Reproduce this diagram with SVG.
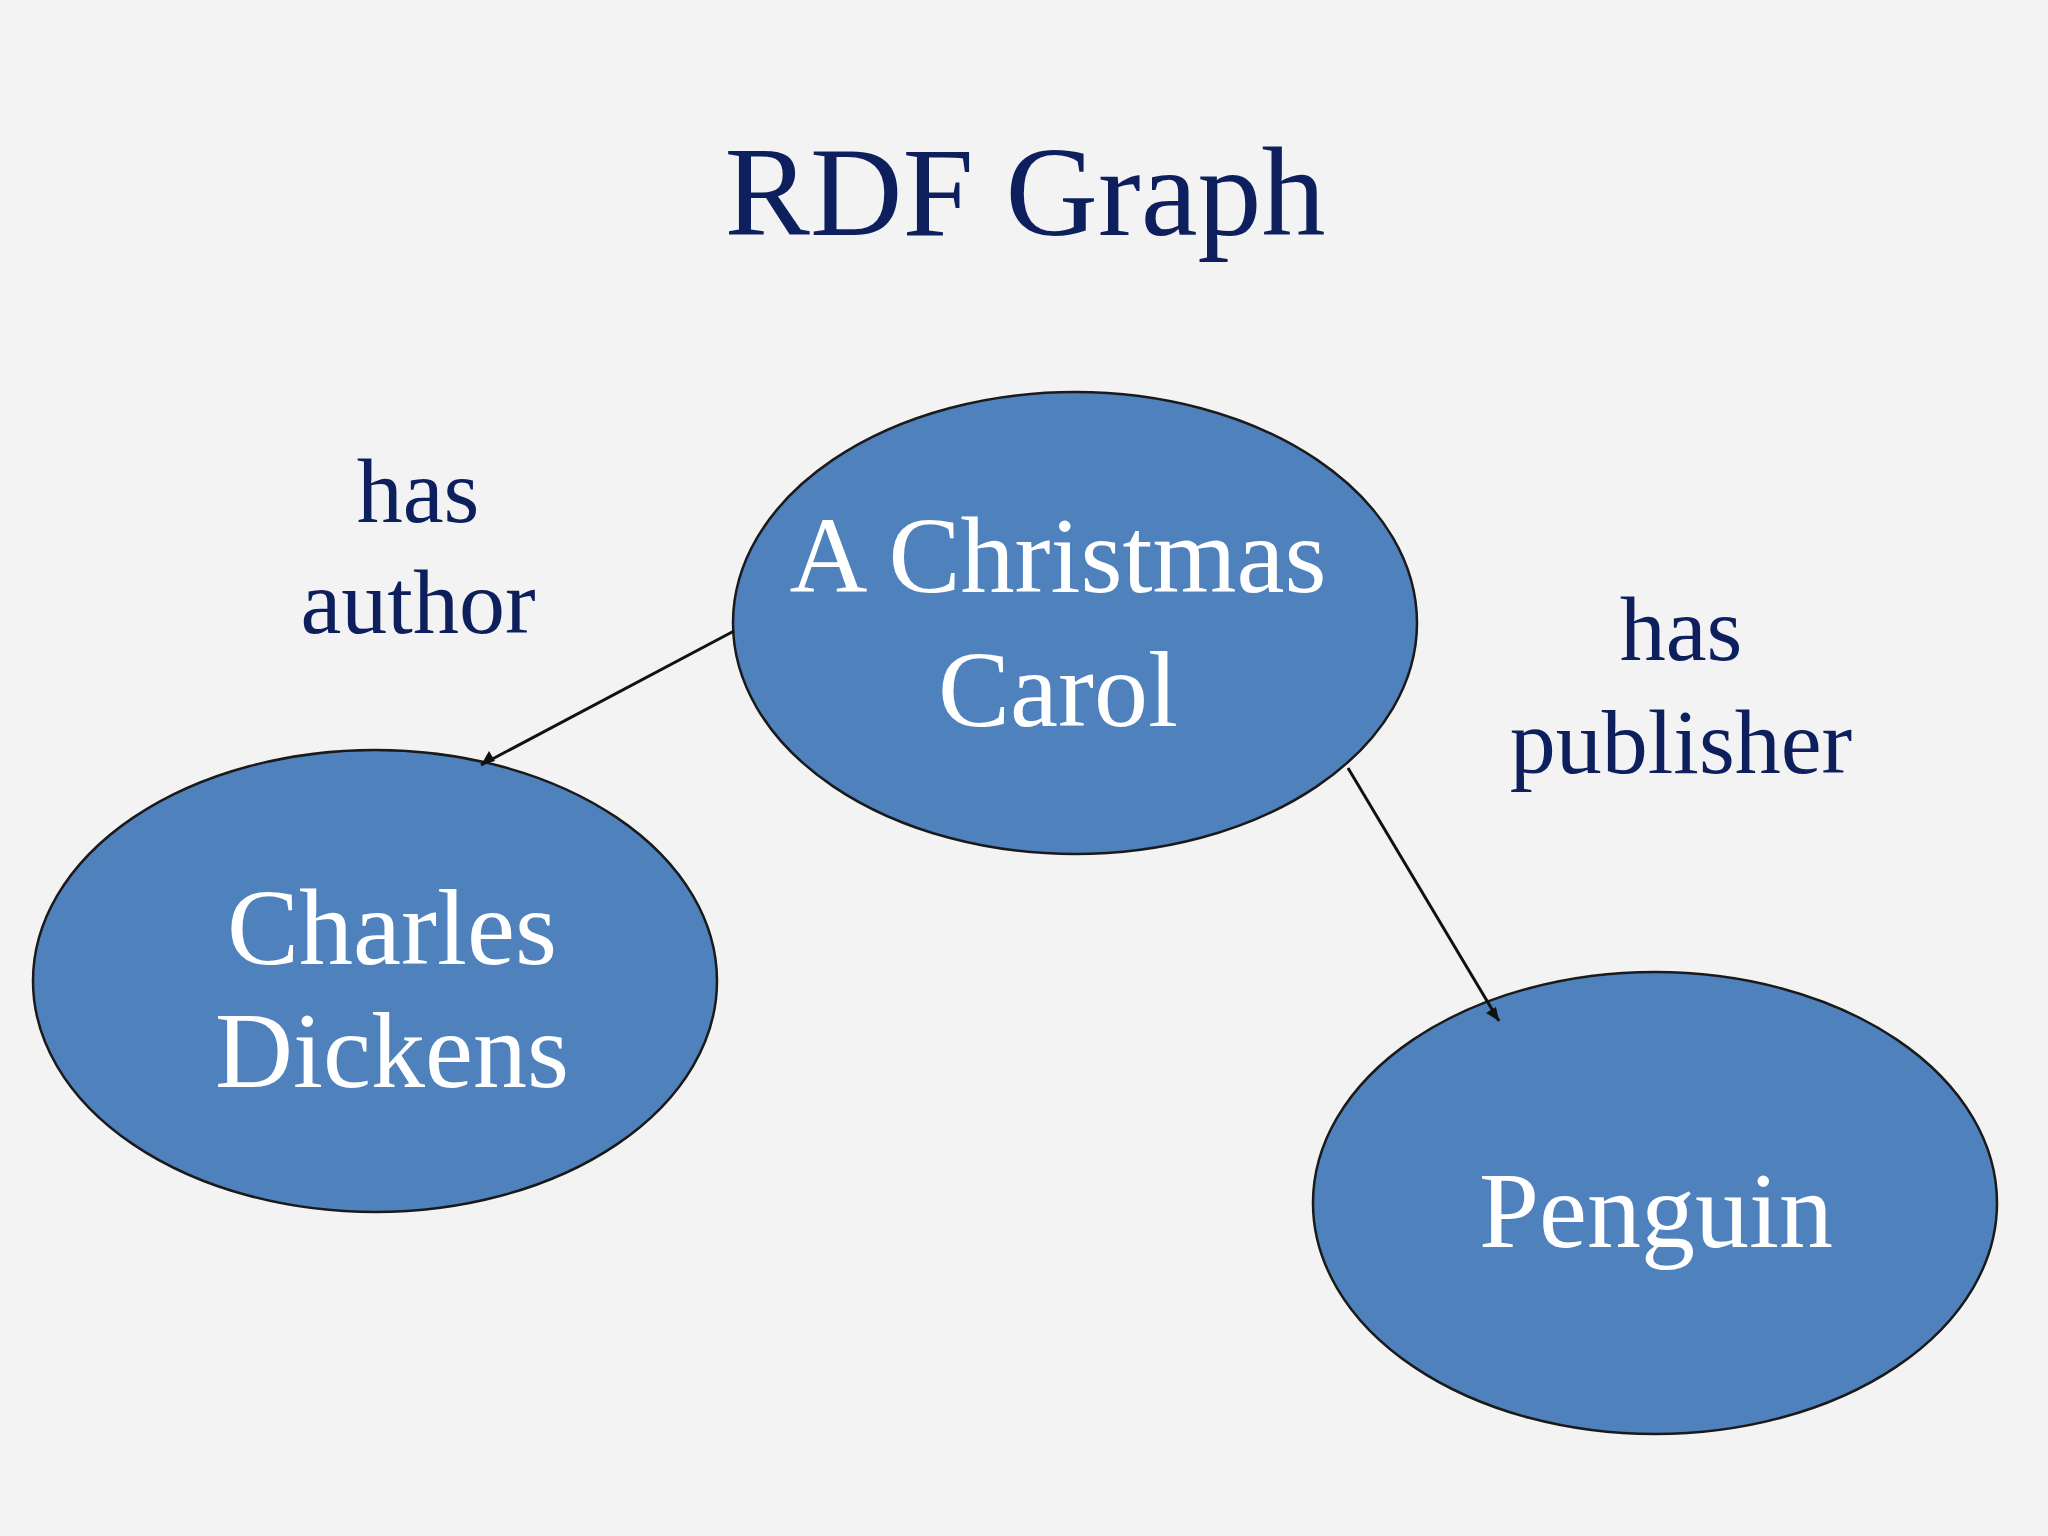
<svg xmlns="http://www.w3.org/2000/svg" width="2048" height="1536" viewBox="0 0 2048 1536">
<style>
.n{fill:#4f81bd;stroke:#1a1a1a;stroke-width:2.5}
.t{font-family:"Liberation Serif",serif;fill:#fff;font-size:108px;text-anchor:middle}
.l{font-family:"Liberation Serif",serif;fill:#0d1f5c;font-size:92px;text-anchor:middle}
.c{stroke:#111;stroke-width:3;fill:none;marker-end:url(#a)}
</style>
<defs><marker id="a" viewBox="0 0 10 10" refX="9" refY="5" markerWidth="7" markerHeight="7" orient="auto-start-reverse" markerUnits="userSpaceOnUse"><path d="M0,0L10,5L0,10z" fill="#111" transform="scale(1)"/></marker></defs>
<rect width="2048" height="1536" fill="#f3f3f4"/>
<text x="1025" y="235" font-family="Liberation Serif,serif" font-size="128" fill="#0d1f5c" text-anchor="middle">RDF Graph</text>
<g id="carol"><ellipse class="n" cx="1075" cy="623" rx="342" ry="231"/><text class="t" x="1058" y="592">A Christmas</text><text class="t" x="1058" y="726">Carol</text></g>
<g id="dickens"><ellipse class="n" cx="375" cy="981" rx="342" ry="231"/><text class="t" x="392" y="964">Charles</text><text class="t" x="392" y="1087">Dickens</text></g>
<g id="penguin"><ellipse class="n" cx="1655" cy="1203" rx="342" ry="231"/><text class="t" x="1656" y="1247">Penguin</text></g>
<g id="labels"><text class="l" x="418" y="522">has</text><text class="l" x="418" y="633">author</text><text class="l" x="1681" y="660">has</text><text class="l" x="1681" y="773">publisher</text></g>
<g id="connectors">
<line class="c" x1="734" y1="631" x2="481" y2="765" style="marker-end:none"/>
<path d="M481,765 l8,-14 l6,10z" fill="#111"/>
<line class="c" x1="1348" y1="768" x2="1499" y2="1021" style="marker-end:none"/>
<path d="M1499,1021 l-13,-8 l10,-6z" fill="#111"/>
</g>
</svg>
